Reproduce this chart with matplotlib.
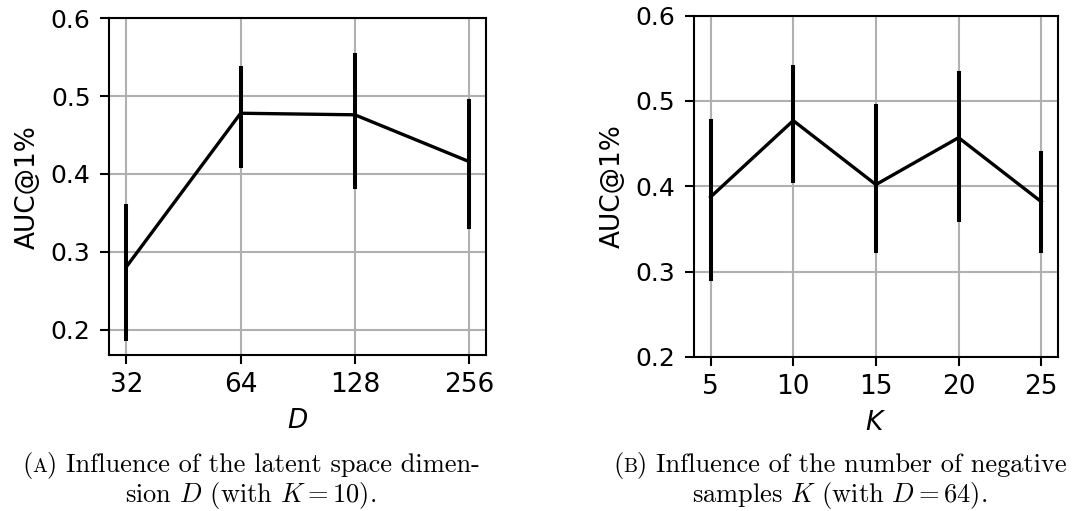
import matplotlib
matplotlib.use("Agg")
import matplotlib.pyplot as plt
from matplotlib.offsetbox import TextArea, HPacker, AnnotationBbox

# Panel A: latent dimension D (K = 10)
D_values = [32, 64, 128, 256]
D_mean = [0.281, 0.478, 0.476, 0.416]
D_low = [0.186, 0.408, 0.381, 0.329]
D_high = [0.362, 0.539, 0.555, 0.496]

# Panel B: number of negative samples K (D = 64)
K_values = [5, 10, 15, 20, 25]
K_mean = [0.3875, 0.477, 0.402, 0.457, 0.382]
K_low = [0.289, 0.404, 0.322, 0.358, 0.322]
K_high = [0.479, 0.542, 0.497, 0.5355, 0.441]

ylabel = "AUC@1%"
cap_a_tag = "A"
cap_a_line1 = ") Influence of the latent space dimen-"
cap_a_line2 = "sion $D$ (with $K = 10$)."
cap_b_tag = "B"
cap_b_line1 = ") Influence of the number of negative"
cap_b_line2 = "samples $K$ (with $D = 64$)."

FS_Y = 18
FS_X = 19
FS_LAB = 19
FS_CAP = 19
LINE_W = 2.4
ERR_W = 2.9

fig = plt.figure(figsize=(10.87, 5.11), dpi=100)
axA = fig.add_axes([0.1006, 0.3053, 0.3466, 0.659])
axB = fig.add_axes([0.6385, 0.3014, 0.3346, 0.668])


def style(ax):
    ax.grid(True, color="#b0b0b0", lw=1.5)
    ax.set_axisbelow(True)
    for s in ax.spines.values():
        s.set_linewidth(1.5)
    ax.tick_params(axis="both", which="major", length=6.5, width=1.5)
    ax.tick_params(axis="y", labelsize=FS_Y, pad=7)
    ax.tick_params(axis="x", labelsize=FS_X, pad=6)
    ax.tick_params(axis="both", which="minor", length=0)
    ax.set_ylabel(ylabel, fontsize=FS_LAB, labelpad=7)


# Panel A
axA.plot(D_values, D_mean, color="black", lw=LINE_W, zorder=3)
axA.vlines(D_values, D_low, D_high, color="black", lw=ERR_W, zorder=3)
axA.set_xscale("log", base=2)
axA.set_xticks(D_values)
axA.set_xticklabels([str(v) for v in D_values])
axA.minorticks_off()
axA.set_ylim(top=0.6)
axA.set_yticks([0.2, 0.3, 0.4, 0.5, 0.6])
axA.set_xlabel("$D$", fontsize=FS_LAB, labelpad=7)
style(axA)

# Panel B
axB.plot(K_values, K_mean, color="black", lw=LINE_W, zorder=3)
axB.vlines(K_values, K_low, K_high, color="black", lw=ERR_W, zorder=3)
axB.set_xticks(K_values)
axB.set_xlim(4, 26)
axB.set_ylim(0.2, 0.6)
axB.set_yticks([0.2, 0.3, 0.4, 0.5, 0.6])
axB.set_xlabel("$K$", fontsize=FS_LAB, labelpad=7)
style(axB)

cap_props = dict(fontsize=FS_CAP, fontfamily="cmr10", math_fontfamily="cm")
tag_props = dict(fontsize=FS_CAP * 0.75, fontfamily="cmr10")


def caption(tag, line1, line2, xc, y1, y2):
    pack = HPacker(children=[TextArea("(", textprops=cap_props),
                             TextArea(tag, textprops=tag_props),
                             TextArea(line1, textprops=cap_props)],
                   align="baseline", pad=0, sep=0)
    ab = AnnotationBbox(pack, (xc, y1), xycoords="figure pixels",
                        box_alignment=(0.5, 0.5), frameon=False, pad=0)
    fig.add_artist(ab)
    fig.text(xc / fig.bbox.width, y2 / fig.bbox.height, line2,
             ha="center", va="center", **cap_props)


H = 511
caption(cap_a_tag, cap_a_line1, cap_a_line2, 251, H - 465, H - 495)
caption(cap_b_tag, cap_b_line1, cap_b_line2, 840, H - 465, H - 495)

fig.savefig("out.png", dpi=100)
